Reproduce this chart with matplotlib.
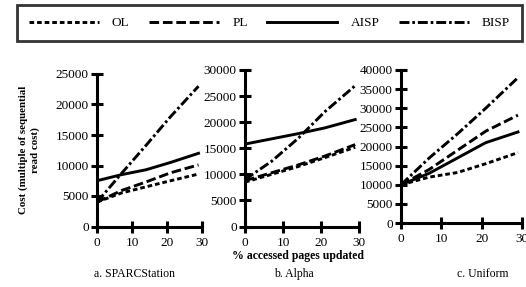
import matplotlib
matplotlib.use("Agg")
import matplotlib.pyplot as plt
from matplotlib.ticker import MultipleLocator

plt.rcParams['font.family'] = ['Liberation Serif', 'DejaVu Serif']

x = [0, 7, 14, 21, 29]

# a. SPARCStation
a_OL = [4000, 5500, 6500, 7500, 8600]
a_PL = [4000, 5900, 7300, 8800, 10100]
a_AISP = [7500, 8500, 9300, 10500, 12000]
a_BISP = [4000, 8700, 13300, 18000, 23000]

# b. Alpha
b_OL = [8500, 10000, 11500, 13200, 15200]
b_PL = [8800, 10300, 11800, 13500, 15700]
b_AISP = [15800, 16800, 17800, 18900, 20500]
b_BISP = [9000, 12500, 16900, 22000, 27000]

# c. Uniform
c_OL = [10000, 12000, 13200, 15500, 18400]
c_PL = [10000, 14000, 19000, 24000, 28200]
c_AISP = [10000, 13000, 17000, 21000, 23800]
c_BISP = [10000, 17000, 23300, 30000, 38000]

series_names = ["OL", "PL", "AISP", "BISP"]
titles = ["a. SPARCStation", "b. Alpha", "c. Uniform"]
ymaxes = [25000, 30000, 40000]
xticks = [0, 10, 20, 30]

styles = {
    "OL": dict(dashes=(1.6, 1.0)),
    "PL": dict(dashes=(3.3, 1.3)),
    "AISP": dict(linestyle="-"),
    "BISP": dict(dashes=(3.4, 1.0, 0.9, 1.0)),
}

W, H = 526, 287
fig = plt.figure(figsize=(W / 100, H / 100), dpi=100)

rects = [
    (97, 74, 202, 226.5),
    (245, 70, 359, 226.5),
    (401, 70, 522, 223),
]

data = [
    (a_OL, a_PL, a_AISP, a_BISP),
    (b_OL, b_PL, b_AISP, b_BISP),
    (c_OL, c_PL, c_AISP, c_BISP),
]

title_x = [135, 294, 483]

lw_spine = 2.2
handles = []
for i, ((x0, y0, x1, y1), vals) in enumerate(zip(rects, data)):
    ax = fig.add_axes([x0 / W, 1 - y1 / H, (x1 - x0) / W, (y1 - y0) / H])
    for name, v in zip(series_names, vals):
        ln, = ax.plot(x, v, color="black", lw=2.1, label=name, **styles[name])
        if i == 0:
            handles.append(ln)
    ax.set_xlim(0, 30)
    ax.set_ylim(0, ymaxes[i])
    ax.set_xticks(xticks)
    ax.yaxis.set_major_locator(MultipleLocator(5000))
    for s in ["top", "right"]:
        ax.spines[s].set_visible(False)
    for s in ["left", "bottom"]:
        ax.spines[s].set_linewidth(lw_spine)
    ax.tick_params(direction="inout", length=9, width=lw_spine, labelsize=9.5)
    ax.tick_params(axis="x", pad=3)
    ax.tick_params(axis="y", pad=1.5)
    ax.patch.set_alpha(0)
    fig.text(title_x[i] / W, 1 - 274 / H, titles[i],
             ha="center", va="center", fontsize=8.5)

fig.text(298 / W, 1 - 256.5 / H, "% accessed pages updated", ha="center", va="center",
         fontsize=8.5, fontweight="bold")
fig.text(29 / W, 1 - 150 / H, "Cost (multiple of sequential\nread cost)", ha="center",
         va="center", rotation=90, fontsize=7.8, fontweight="bold", linespacing=1.35)

leg = fig.legend(handles=handles, labels=series_names, ncol=4, loc="lower left",
                 bbox_to_anchor=(17 / W, 1 - 41 / H, 505 / W, 38 / H), mode="expand",
                 handlelength=5.3, handletextpad=1.0, columnspacing=2.0,
                 fontsize=9.5, frameon=True, fancybox=False, borderaxespad=0,
                 borderpad=0.9)
frame = leg.get_frame()
frame.set_edgecolor("black")
frame.set_linewidth(2.0)

fig.savefig("out.png", dpi=100)
